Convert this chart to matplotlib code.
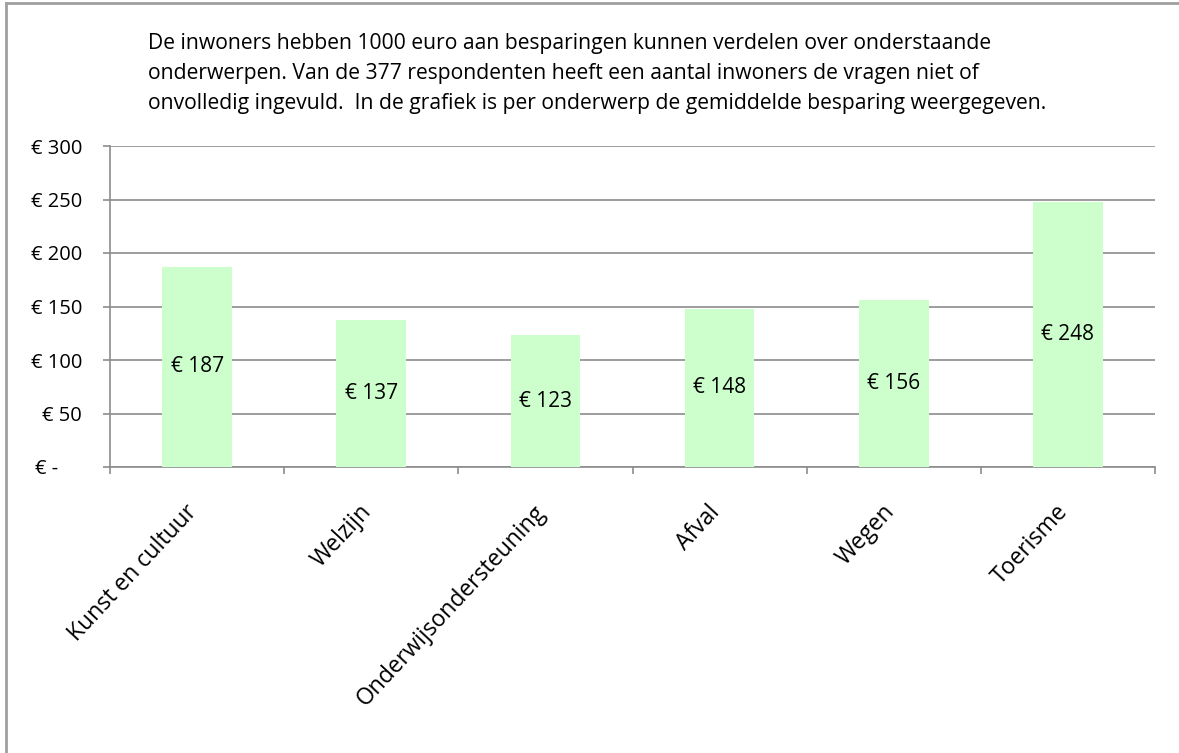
import numpy as np
import matplotlib.pyplot as plt
import matplotlib.transforms as mtrans
from matplotlib.lines import Line2D

categories = ['Kunst en cultuur', 'Welzijn', 'Onderwijsondersteuning',
              'Afval', 'Wegen', 'Toerisme']
values = [187, 137, 123, 148, 156, 248]
yticks = [0, 50, 100, 150, 200, 250, 300]
ytick_labels = ['€ -', '€ 50', '€ 100', '€ 150', '€ 200', '€ 250', '€ 300']
title_lines = [
    'De inwoners hebben 1000 euro aan besparingen kunnen verdelen over onderstaande',
    'onderwerpen. Van de 377 respondenten heeft een aantal inwoners de vragen niet of',
    'onvolledig ingevuld.  In de grafiek is per onderwerp de gemiddelde besparing weergegeven.',
]

plt.rcParams['font.family'] = ['Open Sans', 'DejaVu Sans']

W, H = 1179, 753
fig = plt.figure(figsize=(W / 100, H / 100), dpi=100)
ax = fig.add_axes([110 / W, 1 - 467 / H, (1155 - 110) / W, (467 - 146) / H])

grid_col = '#8c8c8c'
x = np.arange(len(categories))
ax.bar(x, values, width=0.4, color='#ccffcc', zorder=3)

for xi, v in zip(x, values):
    ax.text(xi, v / 2, f'€ {v}', ha='center', va='center', fontsize=15,
            color='black', zorder=4)

ax.set_xlim(-0.5, len(categories) - 0.5)
ax.set_ylim(0, 300)
ax.set_yticks(yticks)
ax.set_yticklabels(ytick_labels, fontsize=14.5)
ax.yaxis.grid(True, color=grid_col, linewidth=1.2, zorder=0)
ax.set_axisbelow(True)

ax.set_xticks(x)
ax.set_xticklabels(categories, rotation=47, ha='right', rotation_mode='anchor',
                   fontsize=16.5)
ax.set_xticks(np.arange(-0.5, len(categories)), minor=True)
ax.tick_params(axis='x', which='major', length=0, pad=24)
ax.tick_params(axis='x', which='minor', length=5, color=grid_col, width=1.2)
ax.tick_params(axis='y', length=5, color=grid_col, width=1.2, pad=15)
shift = mtrans.ScaledTranslation(-12 / 100, 0, fig.dpi_scale_trans)
for lab in ax.get_xticklabels():
    lab.set_transform(lab.get_transform() + shift)
# accounting style: the zero label sits further left
zero_shift = mtrans.ScaledTranslation(-24 / 100, 0, fig.dpi_scale_trans)
zero_lab = ax.get_yticklabels()[0]
zero_lab.set_transform(zero_lab.get_transform() + zero_shift)

for s in ['top', 'right']:
    ax.spines[s].set_visible(False)
ax.spines['left'].set_color(grid_col)
ax.spines['bottom'].set_color(grid_col)
ax.spines['left'].set_linewidth(1.2)
ax.spines['bottom'].set_linewidth(1.2)

for i, line in enumerate(title_lines):
    fig.text(148 / W, 1 - (44 + 30 * i) / H, line, ha='left', va='center',
             fontsize=15.2)

# chart area border (only top and left are visible in the reference)
fig.add_artist(Line2D([5.5 / W, 5.5 / W], [0, 1 - 2.5 / H], color='#a0a0a0',
                      linewidth=2, transform=fig.transFigure))
fig.add_artist(Line2D([5.5 / W, 1], [1 - 2.5 / H, 1 - 2.5 / H], color='#a0a0a0',
                      linewidth=2, transform=fig.transFigure))

fig.savefig('out.png', dpi=100)
